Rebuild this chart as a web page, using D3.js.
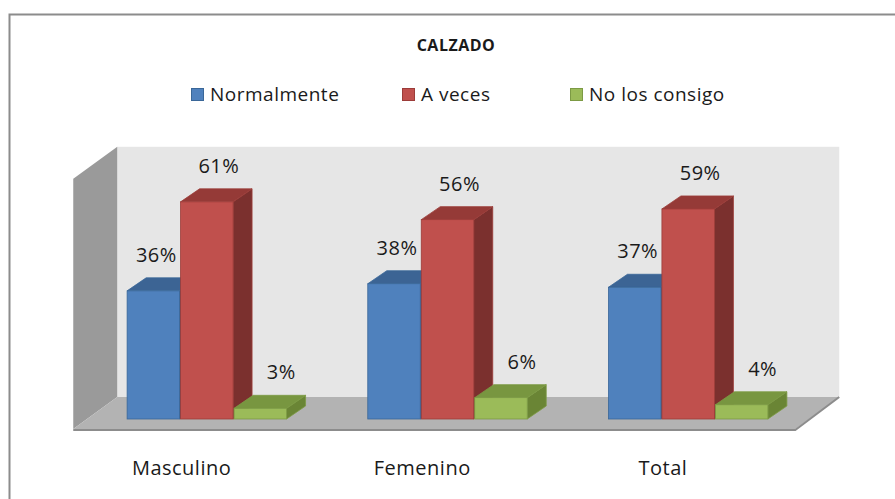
<!DOCTYPE html>
<html>
<head>
<meta charset="utf-8">
<script src="https://cdn.jsdelivr.net/npm/d3@7"></script>
<style>
  body { margin: 0; background: #fff; }
  text { font-family: "Open Sans", "Noto Sans", sans-serif; fill: #1a1a1a; }
</style>
</head>
<body>
<div id="chart"></div>
<script>
const categories = ['Masculino', 'Femenino', 'Total'];
const seriesNames = ['Normalmente', 'A veces', 'No los consigo'];
const normalmente = [36, 38, 37];
const aVeces = [61, 56, 59];
const noLosConsigo = [3, 6, 4];
const seriesValues = [normalmente, aVeces, noLosConsigo];

const width = 895, height = 499;

const colors = [
  {front: '#4f81bd', top: '#3c6494', side: '#385d8a', stroke: '#3a6798'},
  {front: '#c0504d', top: '#953a37', side: '#7b302e', stroke: '#9c3c39'},
  {front: '#9bbb59', top: '#789640', side: '#6a8535', stroke: '#7c9a44'}
];

const svg = d3.select('#chart')
  .append('svg')
  .attr('width', width)
  .attr('height', height);

// outer frame
svg.append('rect')
  .attr('x', 9.5).attr('y', 14.5)
  .attr('width', 920).attr('height', 520)
  .attr('fill', '#fff')
  .attr('stroke', '#8c8c8c')
  .attr('stroke-width', 2);

// 3d geometry
const base = 419;          // bar baseline (front of bars)
const bdx = 19, bdy = 13;  // bar depth
const fdx = 44, fdy = 32;  // floor depth
const front = 10;          // bars sit this far behind floor front edge

const y = d3.scaleLinear().domain([0, 70]).range([base, base - 70 * 3.56]);

const x0 = d3.scaleBand()
  .domain(categories)
  .range([87, 809]);

const x1 = d3.scaleBand()
  .domain(seriesNames)
  .range([x0.bandwidth() / 6, x0.bandwidth() * 5 / 6]);

const floorFrontY = base + front;
const floorBackY = floorFrontY - fdy;
const floorL = x0.range()[0] - front * fdx / fdy;
const floorR = x0.range()[1] - front * fdx / fdy;
const backL = floorL + fdx, backR = floorR + fdx;
const wallTop = y(70) - (fdy - front) - 1;
const sideTop = wallTop + fdy;

// back wall
svg.append('rect')
  .attr('x', backL).attr('y', wallTop)
  .attr('width', backR - backL).attr('height', floorBackY - wallTop)
  .attr('fill', '#e6e6e6');

// left side wall
svg.append('polygon')
  .attr('points', [[floorL, sideTop], [backL, wallTop], [backL, floorBackY], [floorL, floorFrontY]].join(' '))
  .attr('fill', '#9a9a9a');

// floor
svg.append('polygon')
  .attr('points', [[floorL, floorFrontY], [backL, floorBackY], [backR, floorBackY], [floorR, floorFrontY]].join(' '))
  .attr('fill', '#b3b3b3');

svg.append('polyline')
  .attr('points', [[floorL, floorFrontY + 1], [floorR, floorFrontY + 1], [backR, floorBackY]].join(' '))
  .attr('fill', 'none')
  .attr('stroke', '#8c8c8c')
  .attr('stroke-width', 2);

// bars
categories.forEach((cat, ci) => {
  seriesNames.forEach((s, si) => {
    const v = seriesValues[si][ci];
    const c = colors[si];
    const x = x0(cat) + x1(s);
    const w = x1.bandwidth() - 1;
    const yt = y(v);
    const g = svg.append('g');
    g.append('polygon')
      .attr('points', [[x + w, yt], [x + w + bdx, yt - bdy], [x + w + bdx, base - bdy], [x + w, base]].join(' '))
      .attr('fill', c.side).attr('stroke', c.stroke).attr('stroke-width', 0.8);
    g.append('polygon')
      .attr('points', [[x, yt], [x + bdx, yt - bdy], [x + w + bdx, yt - bdy], [x + w, yt]].join(' '))
      .attr('fill', c.top).attr('stroke', c.stroke).attr('stroke-width', 0.8);
    g.append('rect')
      .attr('x', x).attr('y', yt)
      .attr('width', w).attr('height', base - yt)
      .attr('fill', c.front).attr('stroke', c.stroke).attr('stroke-width', 0.8);
    svg.append('text')
      .attr('x', x + w / 2 + 3 + si * 9)
      .attr('y', yt - 29)
      .attr('text-anchor', 'middle')
      .attr('font-size', 20)
      .attr('letter-spacing', 0.5)
      .text(v + '%');
  });
});

// category labels
svg.selectAll('.cat')
  .data(categories)
  .enter().append('text')
  .attr('class', 'cat')
  .attr('x', d => x0(d) + x0.bandwidth() / 2 - front * fdx / fdy - 12)
  .attr('y', 475)
  .attr('text-anchor', 'middle')
  .attr('font-size', 20)
  .attr('letter-spacing', 0.5)
  .text(d => d);

// title
svg.append('text')
  .attr('x', 456)
  .attr('y', 51)
  .attr('text-anchor', 'middle')
  .attr('font-size', 16)
  .attr('font-weight', 'bold')
  .attr('letter-spacing', 0.5)
  .text('CALZADO');

// legend
const legendX = [191, 402, 570];
const legend = svg.selectAll('.legend')
  .data(seriesNames)
  .enter().append('g')
  .attr('class', 'legend')
  .attr('transform', (d, i) => 'translate(' + legendX[i] + ',88)');

legend.append('rect')
  .attr('x', 0.5).attr('y', 0.5)
  .attr('width', 12).attr('height', 12)
  .attr('fill', (d, i) => colors[i].front)
  .attr('stroke', (d, i) => colors[i].stroke);

legend.append('text')
  .attr('x', 19)
  .attr('y', 13)
  .attr('font-size', 19)
  .attr('letter-spacing', 0.5)
  .text(d => d);
</script>
</body>
</html>
